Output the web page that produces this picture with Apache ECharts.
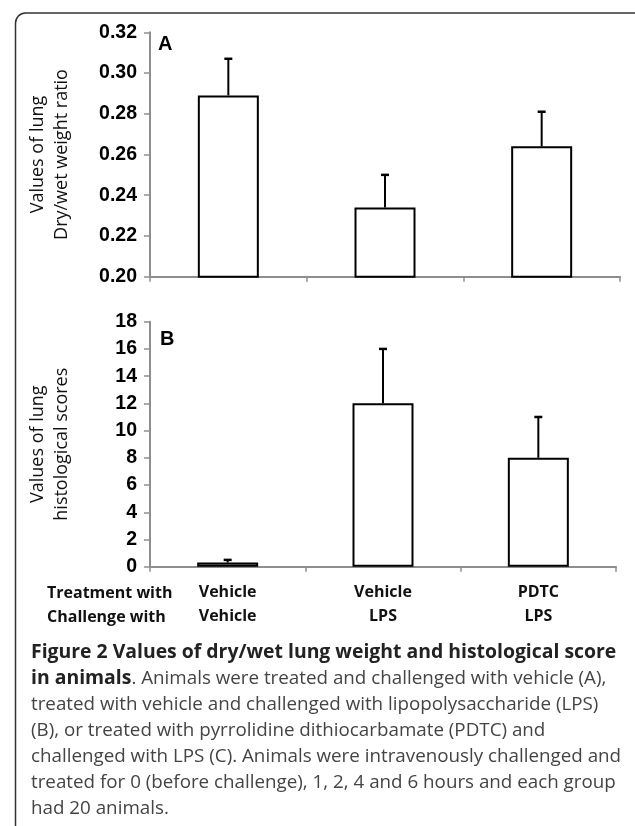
<!DOCTYPE html>
<html>
<head>
<meta charset="utf-8">
<script src="https://cdn.jsdelivr.net/npm/echarts@6/dist/echarts.min.js"></script>
<style>
html,body{margin:0;padding:0;background:#fff;}
#c{width:635px;height:826px;}
</style>
</head>
<body>
<div id="c"></div>
<script>
// ---- data ----
var treatment = ['Vehicle', 'Vehicle', 'PDTC'];
var challenge = ['Vehicle', 'LPS', 'LPS'];
var dryWetMean = [0.289, 0.234, 0.264];
var dryWetErr = [0.018, 0.016, 0.017];
var histoMean = [0.3, 12, 8];
var histoErr = [0.2, 4, 3];
var dryWetTicks = { min: 0.20, max: 0.32, step: 0.02 };
var histoTicks = { min: 0, max: 18, step: 2 };

var categories = treatment.map(function (t, i) { return t + '\n' + challenge[i]; });

var axisGrey = '#8e8e8e';
var numFont = '"Liberation Sans", Arial, sans-serif';
var textFont = '"Open Sans", "Noto Sans", sans-serif';

function errRender(params, api) {
  var x = api.value(0), m = api.value(1), e = api.value(2);
  var p0 = api.coord([x, m]);
  var p1 = api.coord([x, m + e]);
  var hw = 4;
  return {
    type: 'group',
    children: [
      { type: 'line', shape: { x1: p0[0], y1: p0[1], x2: p1[0], y2: p1[1] }, style: { stroke: '#000', lineWidth: 2 } },
      { type: 'line', shape: { x1: p1[0] - hw, y1: p1[1], x2: p1[0] + hw, y2: p1[1] }, style: { stroke: '#000', lineWidth: 2.5 } }
    ]
  };
}

function yAxisCommon(t, name, digits) {
  return {
    type: 'value',
    min: t.min, max: t.max, interval: t.step,
    name: name,
    nameLocation: 'middle',
    nameRotate: 90,
    nameGap: 76,
    nameTextStyle: { fontFamily: textFont, fontSize: 18, color: '#111', lineHeight: 24 },
    axisLine: { show: true, lineStyle: { color: axisGrey, width: 2 } },
    axisTick: { show: true, length: 6, lineStyle: { color: axisGrey, width: 1.5 } },
    splitLine: { show: false },
    axisLabel: {
      margin: 13, color: '#000', fontFamily: numFont, fontWeight: 'bold', fontSize: 19.5,
      formatter: function (v) { return v.toFixed(digits); }
    }
  };
}

var chart = echarts.init(document.getElementById('c'), null, { renderer: 'canvas' });
chart.setOption({
  animation: false,
  backgroundColor: '#fff',
  grid: [
    { left: 150, top: 32.3, width: 470, height: 244.4 },
    { left: 150, top: 321.7, width: 466, height: 245 }
  ],
  xAxis: [
    {
      type: 'category', gridIndex: 0, data: categories,
      axisLine: { lineStyle: { color: axisGrey, width: 2 } },
      axisTick: { show: true, length: 5, lineStyle: { color: axisGrey, width: 1.5 } },
      axisLabel: { show: false }
    },
    {
      type: 'category', gridIndex: 1, data: categories,
      axisLine: { lineStyle: { color: axisGrey, width: 2 } },
      axisTick: { show: true, length: 5, lineStyle: { color: axisGrey, width: 1.5 } },
      axisLabel: {
        show: true, margin: 14, color: '#111', fontFamily: textFont, fontWeight: 'bold',
        fontSize: 16, lineHeight: 24
      }
    }
  ],
  yAxis: [
    Object.assign({ gridIndex: 0 }, yAxisCommon(dryWetTicks, 'Values of lung\nDry/wet weight ratio', 2)),
    Object.assign({ gridIndex: 1 }, yAxisCommon(histoTicks, 'Values of lung\nhistological scores', 0))
  ],
  series: [
    {
      type: 'bar', xAxisIndex: 0, yAxisIndex: 0, data: dryWetMean, barWidth: 61,
      itemStyle: { color: '#fff', borderColor: '#000', borderWidth: 2 }, z: 3
    },
    {
      type: 'custom', xAxisIndex: 0, yAxisIndex: 0, renderItem: errRender, z: 2,
      encode: { x: 0, y: 1 },
      data: dryWetMean.map(function (m, i) { return [i, m, dryWetErr[i]]; })
    },
    {
      type: 'bar', xAxisIndex: 1, yAxisIndex: 1, data: histoMean, barWidth: 61,
      itemStyle: { color: '#fff', borderColor: '#000', borderWidth: 2 }, z: 3
    },
    {
      type: 'custom', xAxisIndex: 1, yAxisIndex: 1, renderItem: errRender, z: 2,
      encode: { x: 0, y: 1 },
      data: histoMean.map(function (m, i) { return [i, m, histoErr[i]]; })
    }
  ],
  graphic: [
    {
      type: 'rect', left: 13, top: 10.5, z: 0,
      shape: { width: 640, height: 900, r: 10 },
      style: { fill: 'none', stroke: '#333', lineWidth: 1.5 }
    },
    {
      type: 'text', left: 158, top: 34, z: 10,
      style: { text: 'A', font: 'bold 20px ' + numFont, fill: '#000' }
    },
    {
      type: 'text', left: 160, top: 329, z: 10,
      style: { text: 'B', font: 'bold 20px ' + numFont, fill: '#000' }
    },
    {
      type: 'text', left: 47, top: 581, z: 10,
      style: {
        text: 'Treatment with\nChallenge with',
        font: 'bold 16px ' + textFont, fill: '#111', lineHeight: 24
      }
    },
    {
      type: 'text', left: 31, top: 643, z: 10,
      style: {
        text: '{b|Figure 2 Values of dry/wet lung weight and histological score}\n' +
              '{b|in animals}{r|. Animals were treated and challenged with vehicle (A),}\n' +
              '{r|treated with vehicle and challenged with lipopolysaccharide (LPS)}\n' +
              '{r|(B), or treated with pyrrolidine dithiocarbamate (PDTC) and}\n' +
              '{r|challenged with LPS (C). Animals were intravenously challenged and}\n' +
              '{r|treated for 0 (before challenge), 1, 2, 4 and 6 hours and each group}\n' +
              '{r|had 20 animals.}',
        rich: {
          b: { fontFamily: textFont, fontWeight: 'bold', fontSize: 19.4, fill: '#222', lineHeight: 26 },
          r: { fontFamily: textFont, fontWeight: 'normal', fontSize: 18.8, fill: '#444', lineHeight: 26 }
        }
      }
    }
  ]
});
</script>
</body>
</html>
